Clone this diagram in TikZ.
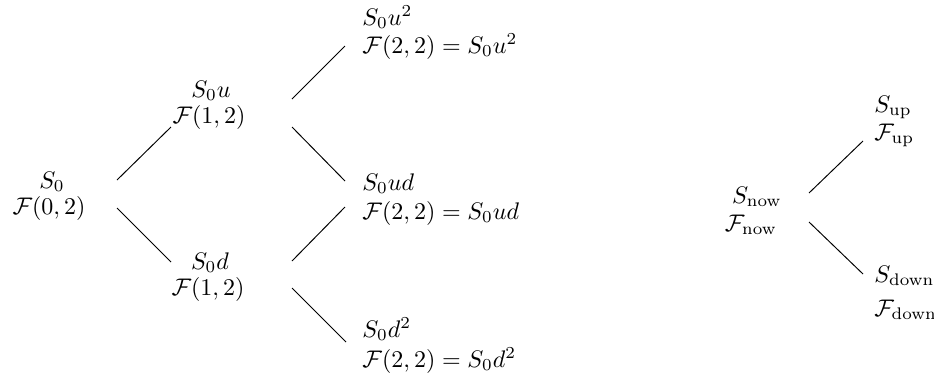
\documentclass[tikz,border=0pt]{standalone}
\begin{document}
\begin{tikzpicture}[x=0.41667pt,y=-0.41667pt,
  lbl/.style={anchor=base,inner sep=0pt},
  lbll/.style={anchor=base west,inner sep=0pt},
  edge/.style={draw=black,line width=0.4pt}]
\useasboundingbox (0,0) rectangle (934,383);
% left tree
\node[lbl] (n0s) at (52,188) {$S_0$};
\node[lbl] (n0f) at (49,214) {$\mathcal{F}(0,2)$};
\node[lbl] (n1s) at (211,97) {$S_0u$};
\node[lbl] (n1f) at (209,123) {$\mathcal{F}(1,2)$};
\node[lbl] (n2s) at (210,269) {$S_0d$};
\node[lbl] (n2f) at (208,295) {$\mathcal{F}(1,2)$};
\node[lbll] (n3s) at (362,25) {$S_0u^2$};
\node[lbll] (n3f) at (362,53) {$\mathcal{F}(2,2)=S_0u^2$};
\node[lbll] (n4s) at (362,190) {$S_0ud$};
\node[lbll] (n4f) at (362,219) {$\mathcal{F}(2,2)=S_0ud$};
\node[lbll] (n5s) at (362,337) {$S_0d^2$};
\node[lbll] (n5f) at (362,367) {$\mathcal{F}(2,2)=S_0d^2$};
\coordinate (a1) at (117,180); \coordinate (b1) at (171,127);
\coordinate (a2) at (117,208); \coordinate (b2) at (171,262);
\coordinate (a3) at (292,99);  \coordinate (b3) at (345,46);
\coordinate (a4) at (292,127); \coordinate (b4) at (345,181);
\coordinate (a5) at (292,261); \coordinate (b5) at (345,207);
\coordinate (a6) at (292,288); \coordinate (b6) at (346,342);
\draw[edge] (a1) -- (b1);
\draw[edge] (a2) -- (b2);
\draw[edge] (a3) -- (b3);
\draw[edge] (a4) -- (b4);
\draw[edge] (a5) -- (b5);
\draw[edge] (a6) -- (b6);
% right tree
\node[lbl] (nows) at (757,203) {$S_{\mathrm{now}}$};
\node[lbl] (nowf) at (751,231) {$\mathcal{F}_{\mathrm{now}}$};
\node[lbll] (ups) at (874,112) {$S_{\mathrm{up}}$};
\node[lbll] (upf) at (874,140) {$\mathcal{F}_{\mathrm{up}}$};
\node[lbll] (dns) at (874,282) {$S_{\mathrm{down}}$};
\node[lbll] (dnf) at (874,316) {$\mathcal{F}_{\mathrm{down}}$};
\coordinate (c1) at (809,193); \coordinate (d1) at (863,141);
\coordinate (c2) at (809,222); \coordinate (d2) at (863,274);
\draw[edge] (c1) -- (d1);
\draw[edge] (c2) -- (d2);
\end{tikzpicture}
\end{document}
